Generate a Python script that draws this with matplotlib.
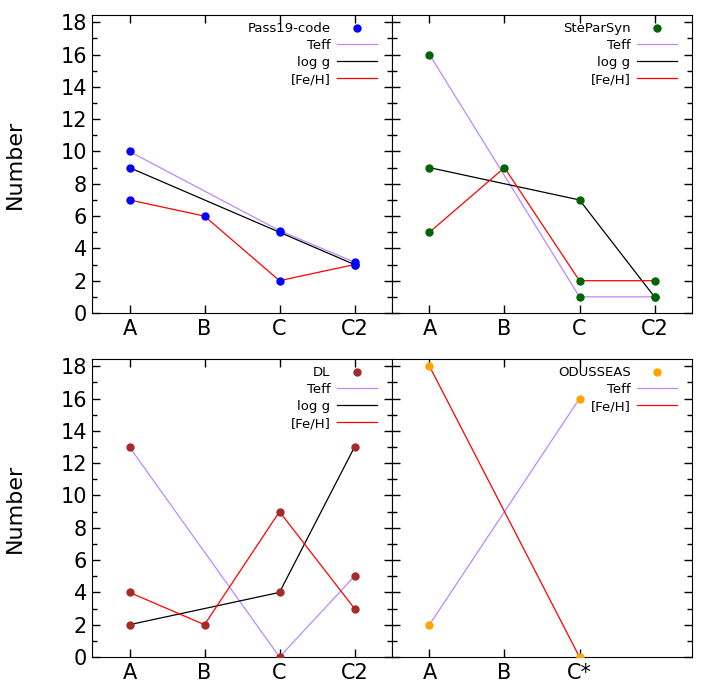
import matplotlib
matplotlib.use("Agg")
from matplotlib import pyplot as plt
from matplotlib.lines import Line2D
from matplotlib.ticker import MultipleLocator
import numpy as np

cats = ["A", "B", "C", "C2"]
cats_od = ["A", "B", "C*"]

# Pass19-code
p19_teff = [10, np.nan, 5.1, 3.15]
p19_logg = [9, np.nan, 5, 3]
p19_feh = [7, 6, 2, 3]

# SteParSyn
sps_teff = [16, np.nan, 1, 1]
sps_logg = [9, np.nan, 7, 1]
sps_feh = [5, 9, 2, 2]

# DL
dl_teff = [13, np.nan, 0, 5]
dl_logg = [2, np.nan, 4, 13]
dl_feh = [4, 2, 9, 3]

# ODUSSEAS
od_teff = [2, np.nan, 16]
od_feh = [18, np.nan, 0]

c_teff = "#bb88ff"
c_logg = "black"
c_feh = "red"

W, H = 704, 695
fig = plt.figure(figsize=(W / 100, H / 100), dpi=100)

def box(x0, y0, x1, y1):
    return [x0 / W, 1 - y1 / H, (x1 - x0) / W, (y1 - y0) / H]

axes = [
    fig.add_axes(box(92, 15, 392, 313)),
    fig.add_axes(box(392, 15, 692, 313)),
    fig.add_axes(box(92, 359, 392, 657)),
    fig.add_axes(box(392, 359, 692, 657)),
]

panels = [
    ("Pass19-code", "blue", cats, [("Teff", p19_teff, c_teff), ("log g", p19_logg, c_logg), ("[Fe/H]", p19_feh, c_feh)]),
    ("SteParSyn", "darkgreen", cats, [("Teff", sps_teff, c_teff), ("log g", sps_logg, c_logg), ("[Fe/H]", sps_feh, c_feh)]),
    ("DL", "brown", cats, [("Teff", dl_teff, c_teff), ("log g", dl_logg, c_logg), ("[Fe/H]", dl_feh, c_feh)]),
    ("ODUSSEAS", "orange", cats_od, [("Teff", od_teff, c_teff), ("[Fe/H]", od_feh, c_feh)]),
]

for i, (ax, (name, mc, labels, series)) in enumerate(zip(axes, panels)):
    handles = [Line2D([], [], ls="none", marker="o", ms=5, color=mc, label=name)]
    for lab, vals, lc in series:
        x = np.arange(len(vals))
        y = np.array(vals, dtype=float)
        ok = ~np.isnan(y)
        ax.plot(x[ok], y[ok], color=lc, lw=0.9, zorder=2)
        ax.plot(x[ok], y[ok], ls="none", marker="o", ms=5, color=mc, zorder=3)
        handles.append(Line2D([], [], color=lc, lw=0.9, label=lab))
    ax.legend(handles=handles, loc="upper right", bbox_to_anchor=(0.98, 1.007),
              frameon=False, markerfirst=False,
              fontsize=9.5, handlelength=3.0, labelspacing=0.3, borderaxespad=0.3,
              handletextpad=0.5)
    ax.set_xlim(-0.5, 3.5)
    ax.set_ylim(0, 18.45)
    ax.set_xticks(range(len(labels)))
    ax.set_xticklabels(labels)
    ax.yaxis.set_major_locator(MultipleLocator(2))
    ax.yaxis.set_minor_locator(MultipleLocator(1))
    ax.tick_params(which="both", direction="in", top=True, right=True, labelsize=15)
    ax.tick_params(which="major", length=6, width=1)
    ax.tick_params(which="minor", length=3.5, width=1)
    ax.tick_params(axis="x", pad=4)
    if i % 2 == 1:
        ax.tick_params(labelleft=False)
    else:
        ax.set_ylabel("Number", fontsize=16, labelpad=26)

fig.savefig("out.png", dpi=100)
